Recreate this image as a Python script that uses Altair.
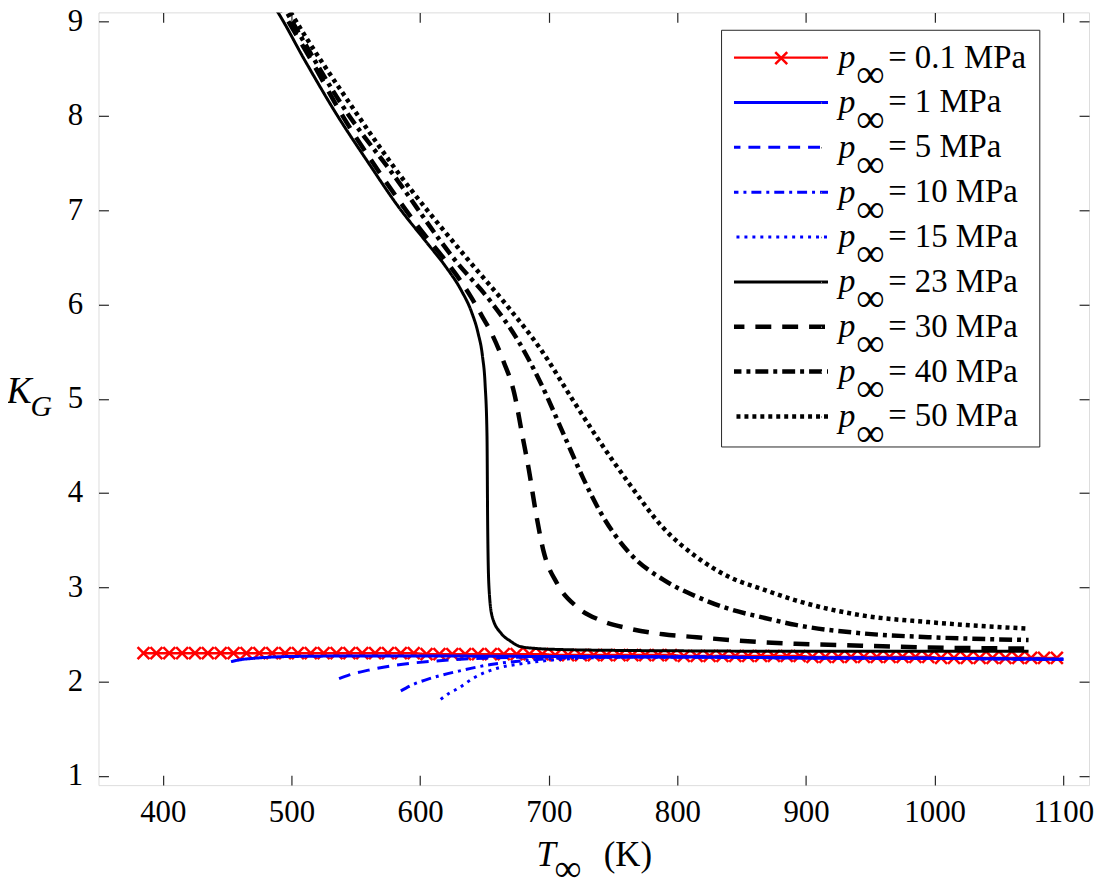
import altair as alt
import pandas as pd

# ---------------- data ----------------
keys = ["0.1", "1", "5", "10", "15", "23", "30", "40", "50"]
colors = ["#ff0000", "#0000ff", "#0000ff", "#0000ff", "#0000ff",
          "#000000", "#000000", "#000000", "#000000"]
dashes = [[1, 0], [1, 0], [12, 8], [10, 5, 3, 5], [3, 5],
          [1, 0], [16, 11], [13, 5, 4, 5], [4, 4]]
widths = [2.5, 3, 3, 3, 3, 3, 4.5, 4.5, 4.5]

T_01 = [385, 395, 405, 415, 425, 435, 445, 455, 465, 475, 485, 495, 505, 515,
        525, 535, 545, 555, 565, 575, 585, 595, 605, 615, 625, 635, 645, 655,
        665, 675, 685, 695, 705, 715, 725, 735, 745, 755, 765, 775, 785, 795,
        805, 815, 825, 835, 845, 855, 865, 875, 885, 895, 905, 915, 925, 935,
        945, 955, 965, 975, 985, 995, 1005, 1015, 1025, 1035, 1045, 1055, 1065,
        1075, 1085, 1095]
K_01 = [2.30, 2.30, 2.30, 2.30, 2.30, 2.30, 2.30, 2.30, 2.30, 2.30, 2.30, 2.30,
        2.30, 2.30, 2.30, 2.30, 2.30, 2.30, 2.30, 2.30, 2.30, 2.30, 2.29, 2.29,
        2.29, 2.29, 2.29, 2.29, 2.29, 2.29, 2.29, 2.29, 2.28, 2.28, 2.28, 2.28,
        2.28, 2.28, 2.28, 2.28, 2.28, 2.28, 2.27, 2.27, 2.27, 2.27, 2.27, 2.27,
        2.27, 2.27, 2.27, 2.27, 2.26, 2.26, 2.26, 2.26, 2.26, 2.26, 2.26, 2.26,
        2.26, 2.26, 2.25, 2.25, 2.25, 2.25, 2.25, 2.25, 2.25, 2.25, 2.25, 2.25]

T_1 = [453, 460, 470, 480, 500, 550, 600, 700, 800, 900, 1000, 1100]
K_1 = [2.21, 2.23, 2.245, 2.255, 2.265, 2.27, 2.27, 2.265, 2.26, 2.25, 2.245, 2.235]

T_5 = [537, 545, 560, 585, 615, 655, 700, 800, 900, 1000, 1100]
K_5 = [2.03, 2.07, 2.12, 2.18, 2.22, 2.25, 2.26, 2.26, 2.25, 2.245, 2.235]

T_10 = [585, 595, 605, 630, 655, 680, 705, 750, 800, 900, 1000, 1100]
K_10 = [1.90, 1.97, 2.02, 2.11, 2.18, 2.22, 2.245, 2.26, 2.26, 2.25, 2.245, 2.235]

T_15 = [616, 622, 630, 642, 660, 680, 705, 730, 770, 800, 900, 1000, 1100]
K_15 = [1.81, 1.87, 1.93, 2.04, 2.14, 2.19, 2.23, 2.25, 2.26, 2.26, 2.25, 2.245, 2.235]

T_23 = [482, 489, 510, 535, 560, 583, 605, 620, 632, 640, 645, 648.5, 650.5,
        652, 652.5, 653.5, 656, 663, 670, 678, 690, 706, 750, 800, 900, 1000,
        1073]
K_23 = [9.25, 9.11, 8.60, 8.02, 7.50, 7.04, 6.66, 6.40, 6.15, 5.92, 5.70, 5.45,
        5.16, 4.61, 3.70, 3.01, 2.69, 2.51, 2.43, 2.37, 2.35, 2.34, 2.33, 2.325,
        2.32, 2.32, 2.32]

T_30 = [487, 493, 515, 539, 571, 600, 619, 632, 640, 648, 655, 665, 673, 679.5,
        684.5, 690, 696, 706.5, 722, 740, 763, 789, 815, 840, 892, 943, 995,
        1073]
K_30 = [9.25, 9.11, 8.60, 8.02, 7.35, 6.80, 6.48, 6.24, 6.07, 5.88, 5.71, 5.39,
        5.07, 4.61, 4.25, 3.79, 3.38, 3.04, 2.79, 2.65, 2.56, 2.50, 2.47, 2.44,
        2.40, 2.38, 2.36, 2.35]

T_40 = [490, 496, 544, 578, 629, 655, 676, 694, 712, 727, 740, 763, 789, 815,
        840, 866, 892, 944, 995, 1073]
K_40 = [9.25, 9.11, 8.02, 7.40, 6.44, 6.03, 5.62, 5.16, 4.61, 4.15, 3.80, 3.36,
        3.08, 2.90, 2.77, 2.68, 2.60, 2.51, 2.47, 2.44]

T_50 = [493, 499, 551, 578, 637, 668, 694, 719, 737, 763, 789, 815, 840, 866,
        892, 944, 995, 1073]
K_50 = [9.25, 9.11, 8.02, 7.49, 6.48, 5.98, 5.52, 4.98, 4.60, 4.09, 3.63, 3.32,
        3.11, 2.98, 2.86, 2.70, 2.63, 2.56]

x_ticks = [400, 500, 600, 700, 800, 900, 1000, 1100]
y_ticks = [1, 2, 3, 4, 5, 6, 7, 8, 9]
unit_text = ["(K)"]

# ---------------- tables ----------------
series_T = [T_01, T_1, T_5, T_10, T_15, T_23, T_30, T_40, T_50]
series_K = [K_01, K_1, K_5, K_10, K_15, K_23, K_30, K_40, K_50]
rows = []
for key, ts, ks in zip(keys, series_T, series_K):
    for t, k in zip(ts, ks):
        rows.append({"T": t, "K": k, "series": key,
                     "sp": "p" + key, "si": "i" + key})
df_lines = pd.DataFrame(rows)
df_marks = pd.DataFrame({"T": T_01, "K": K_01, "sm": "m0.1",
                         "unit": unit_text[0]})
keys_p = ["p" + k for k in keys]
keys_i = ["i" + k for k in keys]

FONT = "Liberation Serif"
AXC = "#262626"
xs = alt.Scale(domain=[350, 1120], nice=False, zero=False)
ys = alt.Scale(domain=[0.9, 9.1], nice=False, zero=False)

tick_common = dict(grid=False, domain=False, tickSize=10, offset=-10,
                   tickColor=AXC, tickWidth=1.2, labelFlush=False,
                   titleFont=FONT, titleColor="black", titleFontWeight="normal",
                   titleAngle=0)

ax_bottom = alt.Axis(orient="bottom", values=x_ticks, format="d",
                     labelFont=FONT, labelFontSize=31, labelColor="black",
                     labelPadding=13, title="T", titleFontSize=35,
                     titleFontStyle="italic", titleX=440, titleY=91,
                     titleAlign="left", titleBaseline="alphabetic", **tick_common)
ax_top = alt.Axis(orient="top", values=x_ticks, labels=False, title="∞",
                  titleFontSize=38, titleX=458, titleY=852, titleAlign="left",
                  titleBaseline="middle", **tick_common)
ax_left = alt.Axis(orient="left", values=y_ticks, format="d",
                   labelFont=FONT, labelFontSize=31, labelColor="black",
                   labelPadding=16, title="K", titleFontSize=38,
                   titleFontStyle="italic", titleX=-103, titleY=392,
                   titleAlign="left", titleBaseline="alphabetic", **tick_common)
ax_right = alt.Axis(orient="right", values=y_ticks, labels=False, title="G",
                    titleFontSize=30, titleFontStyle="italic", titleX=-1055,
                    titleY=405, titleAlign="left", titleBaseline="alphabetic",
                    **tick_common)

leg_main = alt.Legend(title=None, orient="none", legendX=626, legendY=17.5,
                      padding=13, clipHeight=30, rowPadding=12.1,
                      symbolType="stroke", symbolSize=10000, symbolOffset=-8,
                      labelExpr="'= ' + datum.label + ' MPa'", labelOffset=58,
                      labelFont=FONT, labelFontSize=33, labelColor="black",
                      labelFontStyle="normal",
                      labelLimit=400, strokeColor=AXC)
leg_p = alt.Legend(title=None, orient="none", legendX=710, legendY=23.5,
                   padding=0, clipHeight=45, rowPadding=0.1, symbolSize=1,
                   symbolOpacity=0, labelExpr="'p'", labelOffset=0,
                   labelFont=FONT, labelFontSize=34, labelFontStyle="italic",
                   labelColor="black")
leg_inf = alt.Legend(title=None, orient="none", legendX=722, legendY=40.5,
                     padding=0, clipHeight=45, rowPadding=0.1, symbolSize=1,
                     symbolOpacity=0, labelExpr="'∞'", labelOffset=0,
                     labelFont=FONT, labelFontSize=40, labelColor="black")
leg_mark = alt.Legend(title=None, orient="none", legendX=679, legendY=36,
                      padding=0, clipHeight=20, symbolSize=144,
                      symbolStrokeColor="#ff0000", symbolFillColor="transparent",
                      symbolStrokeWidth=2.5, labelExpr="''")
leg_unit = alt.Legend(title=None, orient="none", legendX=473, legendY=827,
                      padding=0, clipHeight=40, symbolOpacity=0,
                      labelOffset=0, labelFont=FONT, labelFontSize=35,
                      labelColor="black")

xpath = "M-1,-1L1,1M-1,1L1,-1"

marks = alt.Chart(df_marks).mark_point(
    filled=False, color="#ff0000", strokeWidth=2.5, opacity=1
).encode(
    x=alt.X("T:Q", scale=xs, axis=ax_top),
    y=alt.Y("K:Q", scale=ys, axis=ax_right),
    shape=alt.Shape("sm:N", scale=alt.Scale(domain=["m0.1"], range=[xpath]),
                    legend=leg_mark),
    size=alt.Size("unit:N", scale=alt.Scale(type="ordinal", domain=unit_text,
                                            range=[144]),
                  legend=leg_unit),
)

lines = alt.Chart(df_lines).mark_line(clip=True, interpolate="monotone").encode(
    x=alt.X("T:Q", scale=xs, axis=ax_bottom),
    y=alt.Y("K:Q", scale=ys, axis=ax_left),
    color=alt.Color("series:N", scale=alt.Scale(domain=keys, range=colors),
                    legend=leg_main),
    strokeDash=alt.StrokeDash("series:N",
                              scale=alt.Scale(domain=keys, range=dashes),
                              legend=leg_main),
    strokeWidth=alt.StrokeWidth("series:N",
                                scale=alt.Scale(type="ordinal", domain=keys,
                                                range=widths),
                                legend=leg_main),
    opacity=alt.Opacity("sp:N", scale=alt.Scale(type="ordinal", domain=keys_p,
                                                range=[1] * 9),
                        legend=leg_p),
)

inf_layer = alt.Chart(df_lines).mark_point(opacity=0, size=1).encode(
    x=alt.X("T:Q", scale=xs, axis=None),
    y=alt.Y("K:Q", scale=ys, axis=None),
    fill=alt.Fill("si:N", scale=alt.Scale(domain=keys_i, range=["#ffffff"] * 9),
                  legend=leg_inf),
)

chart = alt.layer(marks, lines, inf_layer).resolve_axis(
    x="independent", y="independent"
).properties(
    width=996, height=777,
    autosize=alt.AutoSizeParams(type="none"),
    padding={"left": 91, "top": 2, "right": 6, "bottom": 92},
).configure_view(stroke=AXC, strokeWidth=1.3).configure(background="white")

chart.save("out.html", embed_options={"renderer": "svg", "actions": False})
